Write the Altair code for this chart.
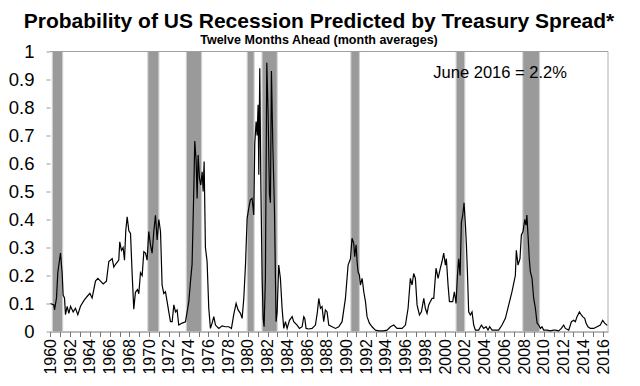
import altair as alt
import pandas as pd

# Monthly-average probability (decimal year, probability)
years = [1960.00, 1960.34, 1960.41, 1960.61, 1960.74, 1961.01, 1961.18, 1961.28, 1961.42, 1961.52,
         1961.69, 1961.86, 1962.03, 1962.30, 1962.53, 1962.77, 1963.04, 1963.38, 1963.71, 1963.99,
         1964.22, 1964.56, 1964.80, 1965.07, 1965.34, 1965.67, 1965.91, 1966.25, 1966.42, 1966.59,
         1966.92, 1967.02, 1967.19, 1967.36, 1967.50, 1967.63, 1967.77, 1967.94, 1968.11, 1968.27,
         1968.44, 1968.61, 1968.82, 1968.95, 1969.12, 1969.29, 1969.46, 1969.63, 1969.79, 1969.96,
         1970.13, 1970.30, 1970.47, 1970.64, 1970.81, 1970.98, 1971.15, 1971.31, 1971.48, 1971.65,
         1971.82, 1971.99, 1972.16, 1972.33, 1972.50, 1972.67, 1972.83, 1973.00, 1973.34, 1973.68,
         1974.02, 1974.19, 1974.35, 1974.52, 1974.62, 1974.76, 1974.86, 1974.96, 1975.10, 1975.23,
         1975.37, 1975.47, 1975.57, 1975.70, 1975.87, 1976.04, 1976.21, 1976.38, 1976.55, 1976.72,
         1977.06, 1977.39, 1977.73, 1978.07, 1978.34, 1978.57, 1978.81, 1979.01, 1979.25, 1979.42,
         1979.59, 1979.76, 1979.93, 1980.09, 1980.26, 1980.43, 1980.60, 1980.70, 1980.84, 1980.94,
         1981.04, 1981.11, 1981.21, 1981.31, 1981.45, 1981.55, 1981.65, 1981.78, 1981.92, 1982.05,
         1982.19, 1982.29, 1982.39, 1982.53, 1982.70, 1982.86, 1982.97, 1983.13, 1983.30, 1983.47,
         1983.64, 1983.81, 1983.98, 1984.22, 1984.49, 1984.65, 1984.99, 1985.23, 1985.50, 1985.67,
         1985.77, 1985.90, 1986.17, 1986.51, 1986.85, 1987.05, 1987.19, 1987.36, 1987.52, 1987.69,
         1987.86, 1988.03, 1988.20, 1988.54, 1988.88, 1989.21, 1989.55, 1989.89, 1990.16, 1990.40,
         1990.56, 1990.73, 1990.83, 1990.97, 1991.07, 1991.17, 1991.31, 1991.41, 1991.58, 1991.75,
         1991.92, 1992.08, 1992.32, 1992.59, 1992.93, 1993.27, 1993.77, 1994.11, 1994.45, 1994.79,
         1995.12, 1995.63, 1995.97, 1996.24, 1996.47, 1996.64, 1996.81, 1996.98, 1997.15, 1997.39,
         1997.59, 1997.83, 1997.99, 1998.16, 1998.33, 1998.50, 1998.67, 1998.84, 1999.07, 1999.28,
         1999.51, 1999.68, 1999.85, 2000.02, 2000.12, 2000.29, 2000.43, 2000.53, 2000.76, 2000.93,
         2001.10, 2001.24, 2001.37, 2001.51, 2001.64, 2001.78, 2001.91, 2002.05, 2002.15, 2002.25,
         2002.38, 2002.55, 2002.72, 2002.89, 2003.06, 2003.40, 2003.67, 2003.90, 2004.14, 2004.34,
         2004.51, 2004.75, 2005.09, 2005.42, 2005.76, 2006.10, 2006.44, 2006.77, 2007.11, 2007.21,
         2007.38, 2007.58, 2007.72, 2007.89, 2008.06, 2008.19, 2008.28, 2008.40, 2008.52, 2008.63,
         2008.80, 2008.97, 2009.14, 2009.31, 2009.48, 2009.65, 2009.81, 2009.98, 2010.32, 2010.66,
         2010.99, 2011.16, 2011.50, 2011.77, 2012.01, 2012.18, 2012.52, 2012.79, 2013.02, 2013.19,
         2013.36, 2013.60, 2013.80, 2013.93, 2014.14, 2014.27, 2014.47, 2014.71, 2015.05, 2015.39,
         2015.72, 2015.96, 2016.16, 2016.42]
probs = [0.100, 0.095, 0.077, 0.120, 0.210, 0.280, 0.210, 0.130, 0.120, 0.060,
         0.090, 0.065, 0.090, 0.070, 0.083, 0.060, 0.090, 0.110, 0.125, 0.136,
         0.120, 0.180, 0.190, 0.180, 0.170, 0.180, 0.250, 0.260, 0.230, 0.240,
         0.255, 0.320, 0.290, 0.300, 0.255, 0.360, 0.410, 0.360, 0.350, 0.210,
         0.080, 0.140, 0.150, 0.135, 0.210, 0.200, 0.285, 0.280, 0.255, 0.357,
         0.310, 0.280, 0.357, 0.415, 0.327, 0.400, 0.357, 0.166, 0.136, 0.142,
         0.107, 0.070, 0.035, 0.035, 0.095, 0.070, 0.077, 0.023, 0.030, 0.035,
         0.107, 0.180, 0.240, 0.500, 0.680, 0.610, 0.475, 0.630, 0.547, 0.523,
         0.570, 0.500, 0.607, 0.300, 0.250, 0.083, 0.011, 0.030, 0.053, 0.023,
         0.011, 0.020, 0.017, 0.017, 0.011, 0.060, 0.100, 0.077, 0.065, 0.047,
         0.118, 0.237, 0.404, 0.440, 0.470, 0.475, 0.416, 0.670, 0.750, 0.700,
         0.810, 0.560, 0.940, 0.547, 0.190, 0.047, 0.017, 0.190, 0.960, 0.785,
         0.490, 0.460, 0.930, 0.670, 0.430, 0.035, 0.070, 0.237, 0.190, 0.083,
         0.011, 0.035, 0.011, 0.040, 0.053, 0.035, 0.023, 0.011, 0.017, 0.053,
         0.047, 0.011, 0.009, 0.011, 0.023, 0.070, 0.118, 0.083, 0.089, 0.035,
         0.077, 0.070, 0.023, 0.017, 0.011, 0.017, 0.035, 0.118, 0.237, 0.260,
         0.333, 0.315, 0.267, 0.310, 0.250, 0.214, 0.200, 0.166, 0.190, 0.142,
         0.107, 0.053, 0.030, 0.017, 0.005, 0.002, 0.002, 0.005, 0.017, 0.023,
         0.011, 0.011, 0.023, 0.083, 0.190, 0.166, 0.207, 0.190, 0.095, 0.059,
         0.070, 0.118, 0.083, 0.065, 0.095, 0.107, 0.118, 0.118, 0.226, 0.190,
         0.226, 0.250, 0.280, 0.237, 0.260, 0.166, 0.107, 0.107, 0.107, 0.142,
         0.100, 0.200, 0.260, 0.200, 0.390, 0.416, 0.460, 0.380, 0.310, 0.214,
         0.070, 0.059, 0.070, 0.023, 0.005, 0.005, 0.023, 0.011, 0.017, 0.005,
         0.017, 0.005, 0.005, 0.005, 0.023, 0.047, 0.095, 0.142, 0.200, 0.290,
         0.237, 0.260, 0.345, 0.357, 0.400, 0.380, 0.416, 0.340, 0.260, 0.214,
         0.190, 0.118, 0.083, 0.030, 0.023, 0.011, 0.017, 0.005, 0.005, 0.002,
         0.005, 0.005, 0.002, 0.011, 0.023, 0.011, 0.005, 0.035, 0.040, 0.035,
         0.053, 0.070, 0.059, 0.053, 0.047, 0.030, 0.017, 0.011, 0.011, 0.017,
         0.023, 0.040, 0.030, 0.022]

# NBER recessions (decimal years)
rec_start = [1960.25, 1969.92, 1973.83, 1980.00, 1981.50, 1990.50, 2001.17, 2007.92]
rec_end = [1961.17, 1970.92, 1975.25, 1980.58, 1982.92, 1991.25, 2001.92, 2009.50]

# Axis tick values
x_ticks = list(range(1960, 2017))
y_ticks = [0, 0.1, 0.2, 0.3, 0.4, 0.5, 0.6, 0.7, 0.8, 0.9, 1.0]

note_text = ["June 2016 = 2.2%"]
note_x = [1998.8]
note_y = [0.923]

FONT = "Liberation Sans"

series = pd.DataFrame({"year": years, "prob": probs})
bands = pd.DataFrame({"start": rec_start, "end": rec_end})
note = pd.DataFrame({"label": note_text, "x": note_x, "y": note_y})
frame = pd.DataFrame({"top": [1.0], "right": [2016.5]})

xscale = alt.Scale(domain=[1959.95, 2016.5], nice=False, zero=False)
yscale = alt.Scale(domain=[0, 1], nice=False)

x_axis = alt.Axis(
    values=x_ticks,
    labelExpr="datum.value % 2 == 0 ? '' + datum.value : ''",
    labelAngle=270,
    labelFontSize=16,
    labelFont=FONT,
    labelColor="black",
    labelPadding=2,
    tickSize=5,
    tickColor="#777777",
    domainColor="#777777",
    grid=False,
    title=None,
    labelOverlap=False,
    labelFlush=False,
)
y_axis = alt.Axis(
    values=y_ticks,
    format=".1~f",
    labelFontSize=18.5,
    labelFont=FONT,
    labelColor="black",
    labelPadding=12,
    tickSize=4,
    tickColor="#999999",
    domain=False,
    grid=False,
    title=None,
    labelOverlap=False,
    labelFlush=False,
)

band_outer = alt.Chart(bands).transform_calculate(
    s="datum.start - 0.12", e="datum.end + 0.12"
).mark_rect(color="#d0d0d0").encode(
    x=alt.X("s:Q", scale=xscale, axis=x_axis, title=None),
    x2="e:Q",
)
band_inner = alt.Chart(bands).mark_rect(color="#9a9a9a").encode(
    x=alt.X("start:Q", scale=xscale, axis=x_axis, title=None),
    x2="end:Q",
)

top_rule = alt.Chart(frame).mark_rule(color="#a0a0a0", strokeWidth=1).encode(
    y=alt.Y("top:Q", scale=yscale, axis=y_axis, title=None)
)
right_rule = alt.Chart(frame).mark_rule(color="#b0b0b0", strokeWidth=1).encode(
    x=alt.X("right:Q", scale=xscale, axis=x_axis, title=None)
)

line = alt.Chart(series).mark_line(color="black", strokeWidth=1.2).encode(
    x=alt.X("year:Q", scale=xscale, axis=x_axis, title=None),
    y=alt.Y("prob:Q", scale=yscale, axis=y_axis, title=None),
)

label = alt.Chart(note).mark_text(
    align="left", baseline="middle", fontSize=16.5, font=FONT, color="black"
).encode(
    x=alt.X("x:Q", scale=xscale, axis=x_axis, title=None),
    y=alt.Y("y:Q", scale=yscale, axis=y_axis, title=None),
    text="label:N",
)

chart = alt.layer(band_outer, band_inner, top_rule, right_rule, line, label).properties(
    width=558,
    height=280,
    autosize=alt.AutoSizeParams(type="none"),
    padding={"left": 42, "top": 43.5, "right": 24, "bottom": 46.5},
    title=alt.TitleParams(
        text="Probability of US Recession Predicted by Treasury Spread*",
        subtitle="Twelve Months Ahead (month averages)",
        font=FONT,
        fontSize=21,
        fontWeight="bold",
        color="black",
        subtitleFont=FONT,
        subtitleFontSize=12.5,
        subtitleFontWeight="bold",
        subtitleColor="black",
        subtitlePadding=2,
        anchor="middle",
        offset=-4,
        dx=-10,
    ),
).resolve_axis(x="shared", y="shared").configure_view(stroke=None)

chart.save("out.html", embed_options={"renderer": "svg", "actions": False})
